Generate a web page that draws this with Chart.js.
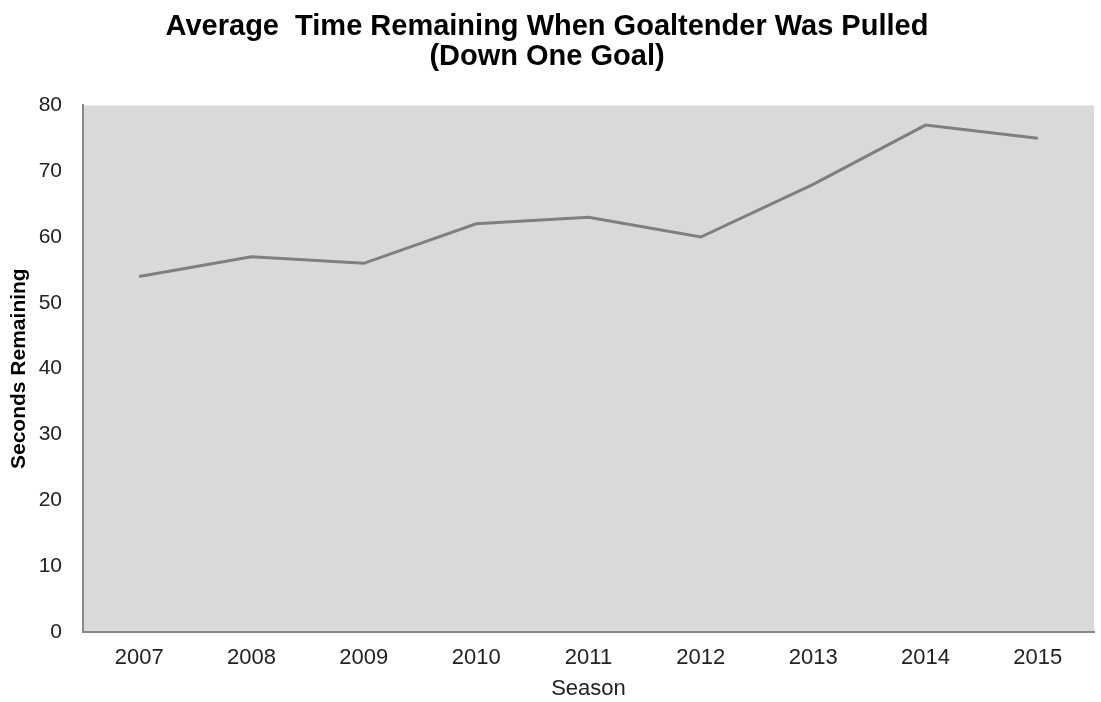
<!DOCTYPE html>
<html>
<head>
<meta charset="utf-8">
<script src="https://cdn.jsdelivr.net/npm/chart.js@4.4.1/dist/chart.umd.min.js"></script>
<style>
    html, body { margin: 0; padding: 0; background: #fff; }
    #wrap { width: 1101px; height: 702px; }
</style>
</head>
<body>
<div id="wrap"><canvas id="myChart"></canvas></div>
<script>
const seasons = ['2007', '2008', '2009', '2010', '2011', '2012', '2013', '2014', '2015'];
const secondsRemaining = [54, 57, 56, 62, 63, 60, 68, 77, 75];
const yTicks = [0, 10, 20, 30, 40, 50, 60, 70, 80];

const fontFamily = 'Liberation Sans, Arial, sans-serif';

// grey fill behind the plot area
const plotBackground = {
    id: 'plotBackground',
    beforeDraw(chart) {
        const {ctx, chartArea} = chart;
        ctx.save();
        ctx.fillStyle = '#d9d9d9';
        ctx.fillRect(chartArea.left, chartArea.top, chartArea.right - chartArea.left, chartArea.bottom - chartArea.top);
        ctx.restore();
    }
};

const ctx = document.getElementById('myChart').getContext('2d');
const myChart = new Chart(ctx, {
    type: 'line',
    data: {
        labels: seasons,
        datasets: [{
            label: 'Seconds Remaining',
            data: secondsRemaining,
            borderColor: '#7f7f7f',
            borderWidth: 3,
            pointRadius: 0,
            tension: 0,
            fill: false
        }]
    },
    options: {
        responsive: true,
        maintainAspectRatio: false,
        animation: false,
        layout: {padding: {top: 0, right: 7, left: 0, bottom: 0}},
        plugins: {
            legend: {display: false},
            tooltip: {enabled: false},
            title: {
                display: true,
                text: ['Average  Time Remaining When Goaltender Was Pulled', '(Down One Goal)'],
                color: '#000',
                font: {family: fontFamily, size: 29, weight: 'bold', lineHeight: 1.04},
                padding: {top: 12, bottom: 33}
            }
        },
        scales: {
            x: {
                offset: true,
                grid: {display: false, drawTicks: false},
                border: {display: true, color: '#888', width: 2},
                afterFit: axis => { axis.height = 70; },
                ticks: {
                    color: '#222',
                    padding: 13,
                    font: {family: fontFamily, size: 22}
                },
                title: {
                    display: true,
                    text: 'Season',
                    color: '#222',
                    padding: {top: 4, bottom: 0},
                    font: {family: fontFamily, size: 22}
                }
            },
            y: {
                min: 0,
                max: 80,
                afterBuildTicks: axis => { axis.ticks = yTicks.map(v => ({value: v})); },
                afterFit: axis => { axis.width = 83; },
                grid: {display: false, drawTicks: false},
                border: {display: true, color: '#888', width: 2},
                ticks: {
                    color: '#222',
                    padding: 21,
                    font: {family: fontFamily, size: 21}
                },
                title: {
                    display: true,
                    text: 'Seconds Remaining',
                    color: '#000',
                    padding: {top: 7, bottom: 6},
                    font: {family: fontFamily, size: 21, weight: 'bold'}
                }
            }
        }
    },
    plugins: [plotBackground]
});
</script>
</body>
</html>
